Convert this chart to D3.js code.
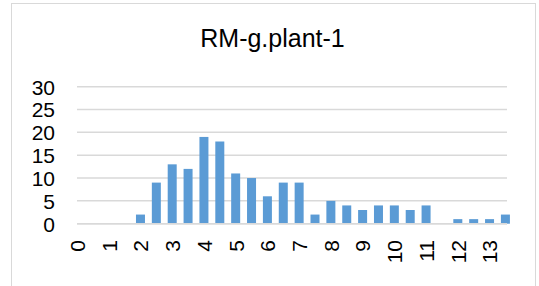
<!DOCTYPE html>
<html>
<head>
<meta charset="utf-8">
<script src="https://cdn.jsdelivr.net/npm/d3@7"></script>
<style>
  html, body { margin: 0; padding: 0; background: #fff; }
  svg { display: block; }
  text { font-family: "Liberation Sans", Arial, sans-serif; fill: #000; }
</style>
</head>
<body>
<svg id="chart" width="539" height="286"></svg>
<script>
const title = "RM-g.plant-1";
const categories = [0, 0.5, 1, 1.5, 2, 2.5, 3, 3.5, 4, 4.5, 5, 5.5, 6, 6.5,
                    7, 7.5, 8, 8.5, 9, 9.5, 10, 10.5, 11, 11.5, 12, 12.5, 13, 13.5];
const values = [0, 0, 0, 0, 2, 9, 13, 12, 19, 18, 11, 10, 6, 9,
                9, 2, 5, 4, 3, 4, 4, 3, 4, 0, 1, 1, 1, 2];
const xTickLabels = [0, 1, 2, 3, 4, 5, 6, 7, 8, 9, 10, 11, 12, 13];
const yTickLabels = [0, 5, 10, 15, 20, 25, 30];

const svg = d3.select("#chart");

// chart border
svg.append("rect")
  .attr("x", 11.5).attr("y", 3.5)
  .attr("width", 524).attr("height", 300)
  .attr("fill", "none").attr("stroke", "#d9d9d9").attr("stroke-width", 1);

const plot = { left: 77, right: 507, top: 86.7, bottom: 223.7 };

const x = d3.scaleLinear().domain([0, 13.55]).range([plot.left, plot.right]);
const y = d3.scaleLinear().domain([0, 30]).range([plot.bottom, plot.top]);

// gridlines
svg.append("g").selectAll("line").data(yTickLabels).join("line")
  .attr("x1", plot.left).attr("x2", plot.right)
  .attr("y1", d => y(d)).attr("y2", d => y(d))
  .attr("stroke", "#d9d9d9").attr("stroke-width", 1.5);

// bars
const bw = 9;
svg.append("g").selectAll("rect").data(categories).join("rect")
  .attr("x", (d) => x(d) - bw / 2)
  .attr("width", bw)
  .attr("y", (d, i) => y(values[i]))
  .attr("height", (d, i) => y(0) - y(values[i]))
  .attr("fill", "#5b9bd5");

// baseline
svg.append("line")
  .attr("x1", plot.left).attr("x2", plot.right)
  .attr("y1", y(0)).attr("y2", y(0))
  .attr("stroke", "#d9d9d9").attr("stroke-width", 1.5);

// y axis labels
const yAxis = d3.axisLeft(y).tickValues(yTickLabels).tickSize(0).tickPadding(0);
const gy = svg.append("g").attr("transform", "translate(55,0)").call(yAxis);
gy.select(".domain").remove();
gy.selectAll("text")
  .attr("font-size", 21).attr("font-family", "Liberation Sans, Arial, sans-serif")
  .attr("fill", "#000").attr("dy", "0.35em");

// x axis labels (rotated)
const xAxis = d3.axisBottom(x).tickValues(xTickLabels).tickSize(0).tickPadding(0);
const gx = svg.append("g").attr("transform", "translate(0,240)").call(xAxis);
gx.select(".domain").remove();
gx.selectAll("text")
  .attr("font-size", 21).attr("font-family", "Liberation Sans, Arial, sans-serif")
  .attr("fill", "#000")
  .attr("text-anchor", "end")
  .attr("x", 0).attr("y", 0)
  .attr("dy", "0.35em")
  .attr("transform", "rotate(-90)");

// title
svg.append("text")
  .attr("x", 272.5).attr("y", 47)
  .attr("text-anchor", "middle")
  .attr("font-size", 25)
  .text(title);
</script>
</body>
</html>
